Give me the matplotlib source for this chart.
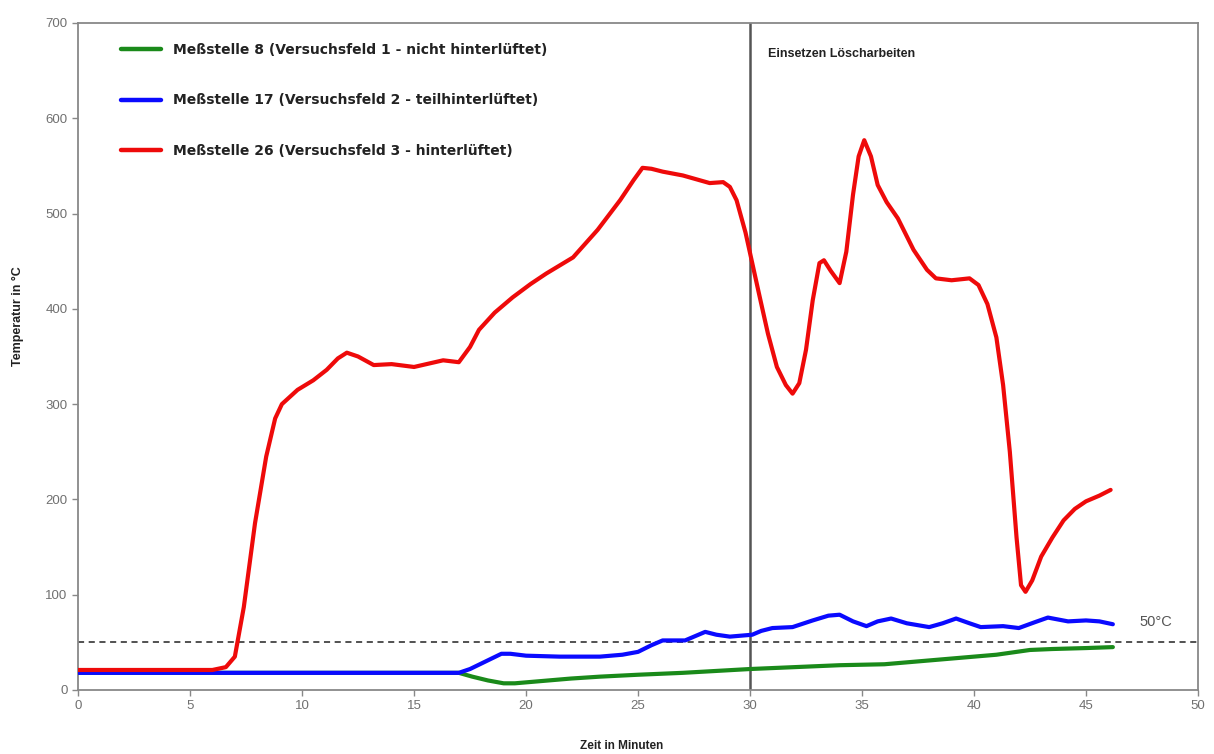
import matplotlib
matplotlib.use("Agg")
import matplotlib.pyplot as plt

plt.rcParams["font.family"] = ["Liberation Sans", "DejaVu Sans"]

# Measuring point 8 (test field 1, not ventilated)
green_t = [0, 17.0, 17.6, 18.3, 19.0, 19.5, 20.5, 22.0, 23.3, 25.0, 27.0, 28.5,
           30.0, 32.0, 34.0, 36.0, 37.0, 38.5, 40.0, 41.0, 42.5, 43.5, 45.0, 46.2]
green_T = [18, 18, 14, 10, 7, 7, 9, 12, 14, 16, 18, 20,
           22, 24, 26, 27, 29, 32, 35, 37, 42, 43, 44, 45]

# Measuring point 17 (test field 2, partly ventilated)
blue_t = [0, 17.0, 17.5, 18.2, 18.9, 19.3, 20.0, 21.5, 23.3, 24.3, 25.0, 25.6,
          26.1, 27.1, 27.5, 28.0, 28.5, 29.1, 30.1, 30.5, 31.0, 31.9, 32.8, 33.5,
          34.0, 34.6, 35.2, 35.7, 36.3, 37.0, 38.0, 38.6, 39.2, 39.8, 40.3, 41.3,
          42.0, 42.7, 43.3, 44.2, 45.0, 45.6, 46.2]
blue_T = [18, 18, 22, 30, 38, 38, 36, 35, 35, 37, 40, 47,
          52, 52, 56, 61, 58, 56, 58, 62, 65, 66, 73, 78,
          79, 72, 67, 72, 75, 70, 66, 70, 75, 70, 66, 67,
          65, 71, 76, 72, 73, 72, 69]

# Measuring point 26 (test field 3, ventilated)
red_t = [0, 6.0, 6.6, 7.0, 7.4, 7.9, 8.4, 8.8, 9.1, 9.8, 10.5, 11.1, 11.6, 12.0,
         12.5, 13.2, 14.0, 15.0, 16.3, 17.0, 17.5, 17.9, 18.6, 19.4, 20.2, 20.9,
         22.1, 23.2, 24.2, 24.8, 25.2, 25.6, 26.1, 27.0, 27.6, 28.2, 28.8, 29.1,
         29.4, 29.8, 30.1, 30.4, 30.8, 31.2, 31.6, 31.9, 32.2, 32.5, 32.8, 33.1,
         33.3, 33.6, 34.0, 34.3, 34.6, 34.85, 35.1, 35.4, 35.7, 36.1, 36.6, 37.3,
         37.9, 38.3, 39.0, 39.8, 40.2, 40.6, 41.0, 41.3, 41.6, 41.9, 42.1, 42.3,
         42.6, 43.0, 43.5, 44.0, 44.5, 45.0, 45.6, 46.1]
red_T = [21, 21, 24, 35, 87, 175, 245, 285, 300, 315, 325, 336, 348, 354,
         350, 341, 342, 339, 346, 344, 360, 378, 396, 412, 426, 437,
         454, 483, 514, 535, 548, 547, 544, 540, 536, 532, 533, 528,
         514, 480, 448, 416, 374, 339, 320, 311, 322, 357, 409, 448,
         451, 440, 427, 460, 520, 560, 577, 560, 530, 512, 495, 462,
         441, 432, 430, 432, 425, 405, 370, 320, 250, 160, 110, 103,
         115, 140, 160, 178, 190, 198, 204, 210]

labels = ["Meßstelle 8 (Versuchsfeld 1 - nicht hinterlüftet)",
          "Meßstelle 17 (Versuchsfeld 2 - teilhinterlüftet)",
          "Meßstelle 26 (Versuchsfeld 3 - hinterlüftet)"]
x_ticks = list(range(0, 51, 5))
y_ticks = list(range(0, 701, 100))
limit_value = 50
start_extinguishing = 30

fig = plt.figure(figsize=(12.14, 7.54), dpi=100)
ax = fig.add_axes([0.0643, 0.0849, 0.9225, 0.8846])

lw = 3.0
ax.plot(green_t, green_T, color="#1a8a1a", lw=lw, solid_joinstyle="round",
        solid_capstyle="round", label=labels[0], zorder=3)
ax.plot(blue_t, blue_T, color="#0a0aff", lw=lw, solid_joinstyle="round",
        solid_capstyle="round", label=labels[1], zorder=4)
ax.plot(red_t, red_T, color="#ee0a0a", lw=lw, solid_joinstyle="round",
        solid_capstyle="round", label=labels[2], zorder=5)

ax.axhline(limit_value, color="#222222", lw=1.1, ls=(0, (4, 3)), zorder=2)
ax.axvline(start_extinguishing, color="#555555", lw=1.8, zorder=2)

ax.text(30.8, 667, "Einsetzen Löscharbeiten", fontsize=9, fontweight="bold",
        color="#222222", ha="left", va="center")
ax.text(47.4, 71, "50°C", fontsize=10.5, color="#555555", ha="left", va="center")

ax.set_xlim(0, 50)
ax.set_ylim(0, 700)
ax.set_xticks(x_ticks)
ax.set_yticks(y_ticks)
ax.tick_params(axis="both", colors="#888888", labelcolor="#707070",
               labelsize=9.5, length=4, width=1)
for sp in ax.spines.values():
    sp.set_color("#888888")
    sp.set_linewidth(1.3)

ax.set_xlabel("Zeit in Minuten", fontsize=8.5, fontweight="bold", color="#222222")
ax.xaxis.set_label_coords(0.485, -0.075)
ax.set_ylabel("Temperatur in °C", fontsize=9, fontweight="bold", color="#222222")
ax.yaxis.set_label_coords(-0.048, 0.56)

leg = ax.legend(loc="upper left", bbox_to_anchor=(0.033, 0.979), frameon=False,
                prop={"family": "DejaVu Sans", "size": 10, "weight": "bold"},
                handlelength=2.9, handletextpad=0.9,
                labelspacing=2.65, borderaxespad=0)
for line in leg.get_lines():
    line.set_linewidth(3.2)
for t in leg.get_texts():
    t.set_color("#222222")

fig.savefig("out.png", dpi=100, facecolor="white")
